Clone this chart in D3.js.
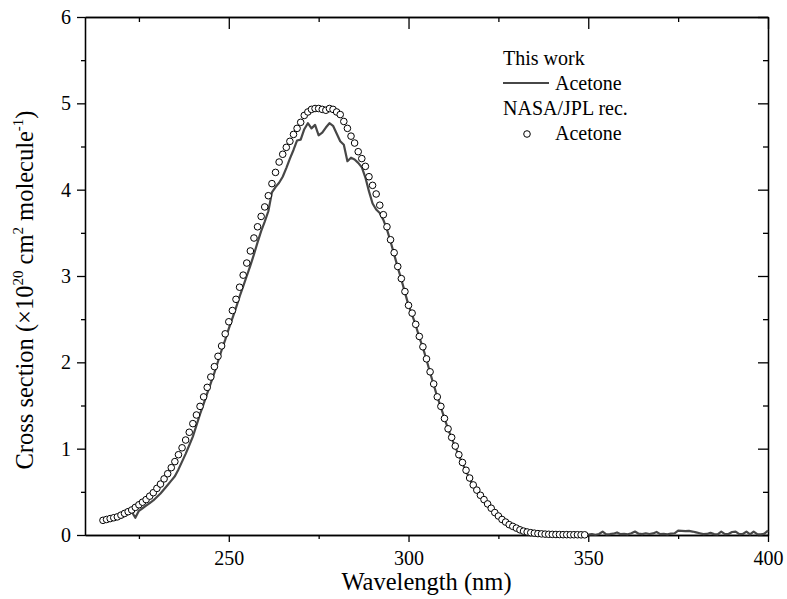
<!DOCTYPE html>
<html>
<head>
<meta charset="utf-8">
<script src="https://cdn.jsdelivr.net/npm/d3@7"></script>
<style>
  body { margin: 0; background: #fff; }
</style>
</head>
<body>
<div id="chart"></div>
<script>
// NASA/JPL recommended acetone cross sections, 215..349 nm every 1 nm
var jplStart = 215;
var jplValues = [
  0.17, 0.18, 0.19, 0.20, 0.21, 0.23, 0.25, 0.27, 0.29, 0.32,
  0.35, 0.38, 0.41, 0.45, 0.49, 0.54, 0.59, 0.65, 0.71, 0.78,
  0.85, 0.93, 1.01, 1.10, 1.19, 1.29, 1.39, 1.49, 1.60, 1.71,
  1.83, 1.95, 2.07, 2.19, 2.33, 2.47, 2.60, 2.73, 2.87, 3.01,
  3.15, 3.29, 3.44, 3.57, 3.69, 3.80, 3.93, 4.07, 4.20, 4.32,
  4.41, 4.49, 4.56, 4.64, 4.71, 4.78, 4.86, 4.90, 4.93, 4.94,
  4.94, 4.93, 4.92, 4.94, 4.93, 4.90, 4.87, 4.79, 4.71, 4.62,
  4.54, 4.44, 4.36, 4.27, 4.15, 4.05, 3.95, 3.82, 3.71, 3.57,
  3.42, 3.27, 3.11, 2.97, 2.82, 2.66, 2.57, 2.44, 2.30, 2.18,
  2.04, 1.89, 1.75, 1.60, 1.49, 1.35, 1.23, 1.13, 1.03, 0.93,
  0.84, 0.75, 0.66, 0.58, 0.52, 0.46, 0.41, 0.36, 0.31, 0.26,
  0.22, 0.18, 0.15, 0.12, 0.10, 0.08, 0.06, 0.045, 0.035, 0.027,
  0.021, 0.016, 0.013, 0.010, 0.008, 0.007, 0.006, 0.005, 0.004, 0.004,
  0.003, 0.003, 0.003, 0.002, 0.002
];

// this work, 220..400 nm every 1 nm
var workStart = 220;
var workValues = [
  0.20, 0.22, 0.25, 0.27, 0.20, 0.28, 0.31, 0.34, 0.37, 0.40,
  0.44, 0.48, 0.53, 0.58, 0.63, 0.68, 0.76, 0.85, 0.94, 1.04,
  1.14, 1.27, 1.40, 1.52, 1.64, 1.76, 1.88, 2.01, 2.14, 2.26,
  2.39, 2.51, 2.63, 2.76, 2.88, 3.00, 3.12, 3.25, 3.39, 3.52,
  3.63, 3.75, 3.97, 4.03, 4.08, 4.15, 4.25, 4.36, 4.46, 4.57,
  4.58, 4.70, 4.77, 4.71, 4.75, 4.63, 4.66, 4.72, 4.77, 4.74,
  4.65, 4.56, 4.52, 4.33, 4.37, 4.35, 4.31, 4.26, 4.14, 3.98,
  3.84, 3.77, 3.73, 3.65, 3.54, 3.40, 3.25, 3.10, 2.96, 2.81,
  2.66, 2.55, 2.43, 2.29, 2.17, 2.03, 1.88, 1.74, 1.60, 1.48,
  1.35, 1.23, 1.12, 1.02, 0.92, 0.83, 0.74, 0.65, 0.57, 0.50,
  0.44, 0.39, 0.34, 0.29, 0.24, 0.20, 0.16, 0.13, 0.10, 0.08,
  0.06, 0.05, 0.035, 0.025, 0.02, 0.015, 0.012, 0.010, 0.008, 0.007,
  0.006, 0.005, 0.005, 0.004, 0.004, 0.003, 0.003, 0.003, 0.002, 0.002,
  0.005, 0.010, 0.003, 0.012, 0.040, 0.008, 0.010, 0.015, 0.030, 0.010,
  0.012, 0.008, 0.020, 0.040, 0.015, 0.010, 0.020, 0.012, 0.018, 0.035,
  0.010, 0.012, 0.008, 0.015, 0.020, 0.050, 0.048, 0.045, 0.048, 0.040,
  0.030, 0.020, 0.010, 0.012, 0.025, 0.010, 0.008, 0.040, 0.010, 0.012,
  0.035, 0.040, 0.010, 0.012, 0.040, 0.008, 0.040, 0.010, 0.008, 0.015,
  0.050
];

var xTicks = [250, 300, 350, 400];
var xMinor = [225, 275, 325, 375];
var yTicks = [0, 1, 2, 3, 4, 5, 6];
var yMinor = [0.5, 1.5, 2.5, 3.5, 4.5, 5.5];

var serif = "'Liberation Serif', 'Times New Roman', Times, serif";

var margin = {top: 17, right: 19, bottom: 64, left: 85},
    width = 787 - margin.left - margin.right,
    height = 599 - margin.top - margin.bottom;

var jpl = jplValues.map(function(v, i) { return {wl: jplStart + i, value: v}; });
var work = workValues.map(function(v, i) { return {wl: workStart + i, value: v}; });

var svg = d3.select("#chart")
  .append("svg")
  .attr("width", 787)
  .attr("height", 599)
  .attr("font-family", serif)
  .append("g")
  .attr("transform", `translate(${margin.left},${margin.top})`);

var x = d3.scaleLinear().domain([210, 400]).range([0, width]);
var y = d3.scaleLinear().domain([0, 6]).range([height, 0]);

// axes: bottom / left ticks out, top / right ticks in
function styleAxis(g) {
  g.attr("font-family", serif).attr("font-size", 20);
  g.select(".domain").attr("stroke", "#000").attr("stroke-width", 1.3);
  g.selectAll(".tick line").attr("stroke", "#000").attr("stroke-width", 1.3);
  g.selectAll(".tick text").attr("fill", "#000");
}

var fmt = d3.format("d");

svg.append("g")
  .attr("transform", `translate(0,${height})`)
  .call(d3.axisBottom(x).tickValues(xTicks).tickFormat(fmt).tickSize(7).tickPadding(9).tickSizeOuter(0))
  .call(styleAxis);
svg.append("g")
  .attr("transform", `translate(0,${height})`)
  .call(d3.axisBottom(x).tickValues(xMinor).tickSize(4).tickFormat("").tickSizeOuter(0))
  .call(styleAxis);

svg.append("g")
  .call(d3.axisLeft(y).tickValues(yTicks).tickFormat(fmt).tickSize(8).tickPadding(6).tickSizeOuter(0))
  .call(styleAxis);
svg.append("g")
  .call(d3.axisLeft(y).tickValues(yMinor).tickSize(4).tickFormat("").tickSizeOuter(0))
  .call(styleAxis);

svg.append("g")
  .call(d3.axisTop(x).tickValues(xTicks).tickSize(-12).tickFormat("").tickSizeOuter(0))
  .call(styleAxis);
svg.append("g")
  .call(d3.axisTop(x).tickValues(xMinor).tickSize(-5).tickFormat("").tickSizeOuter(0))
  .call(styleAxis);

svg.append("g")
  .attr("transform", `translate(${width},0)`)
  .call(d3.axisRight(y).tickValues(yTicks).tickSize(-10).tickFormat("").tickSizeOuter(0))
  .call(styleAxis);
svg.append("g")
  .attr("transform", `translate(${width},0)`)
  .call(d3.axisRight(y).tickValues(yMinor).tickSize(-5).tickFormat("").tickSizeOuter(0))
  .call(styleAxis);

// this work line
svg.append("path")
  .datum(work)
  .attr("fill", "none")
  .attr("stroke", "#474747")
  .attr("stroke-width", 2.2)
  .attr("stroke-linejoin", "round")
  .attr("d", d3.line()
    .x(function(d) { return x(d.wl); })
    .y(function(d) { return y(d.value); }));

// JPL circles
svg.append("g")
  .selectAll("circle")
  .data(jpl)
  .join("circle")
  .attr("cx", function(d) { return x(d.wl); })
  .attr("cy", function(d) { return y(d.value); })
  .attr("r", 3.3)
  .attr("fill", "#fff")
  .attr("stroke", "#000")
  .attr("stroke-width", 1);

// axis titles
svg.append("text")
  .attr("x", width / 2)
  .attr("y", height + 55)
  .attr("text-anchor", "middle")
  .attr("font-size", 24.5)
  .text("Wavelength (nm)");

var yTitle = svg.append("text")
  .attr("transform", `translate(${33 - margin.left},${290 - margin.top}) rotate(-90)`)
  .attr("text-anchor", "middle")
  .attr("font-size", 24.5);
yTitle.append("tspan").text("Cross section (\u00d710");
yTitle.append("tspan").attr("font-size", 15).attr("dy", -10).text("20");
yTitle.append("tspan").attr("dy", 10).text(" cm");
yTitle.append("tspan").attr("font-size", 15).attr("dy", -10).text("2");
yTitle.append("tspan").attr("dy", 10).text(" molecule");
yTitle.append("tspan").attr("font-size", 15).attr("dy", -10).text("-1");
yTitle.append("tspan").attr("dy", 10).text(")");

// legend
var legend = svg.append("g").attr("transform", `translate(${503 - margin.left},0)`);
legend.append("text").attr("x", 0).attr("y", 65 - margin.top).attr("font-size", 20).text("This work");
legend.append("line")
  .attr("x1", 0).attr("x2", 46)
  .attr("y1", 83 - margin.top).attr("y2", 83 - margin.top)
  .attr("stroke", "#474747").attr("stroke-width", 2.2);
legend.append("text").attr("x", 52).attr("y", 90 - margin.top).attr("font-size", 20).text("Acetone");
legend.append("text").attr("x", 0).attr("y", 115 - margin.top).attr("font-size", 20).text("NASA/JPL rec.");
legend.append("circle")
  .attr("cx", 24).attr("cy", 134 - margin.top).attr("r", 3.3)
  .attr("fill", "#fff").attr("stroke", "#000").attr("stroke-width", 1);
legend.append("text").attr("x", 52).attr("y", 140 - margin.top).attr("font-size", 20).text("Acetone");
</script>
</body>
</html>
